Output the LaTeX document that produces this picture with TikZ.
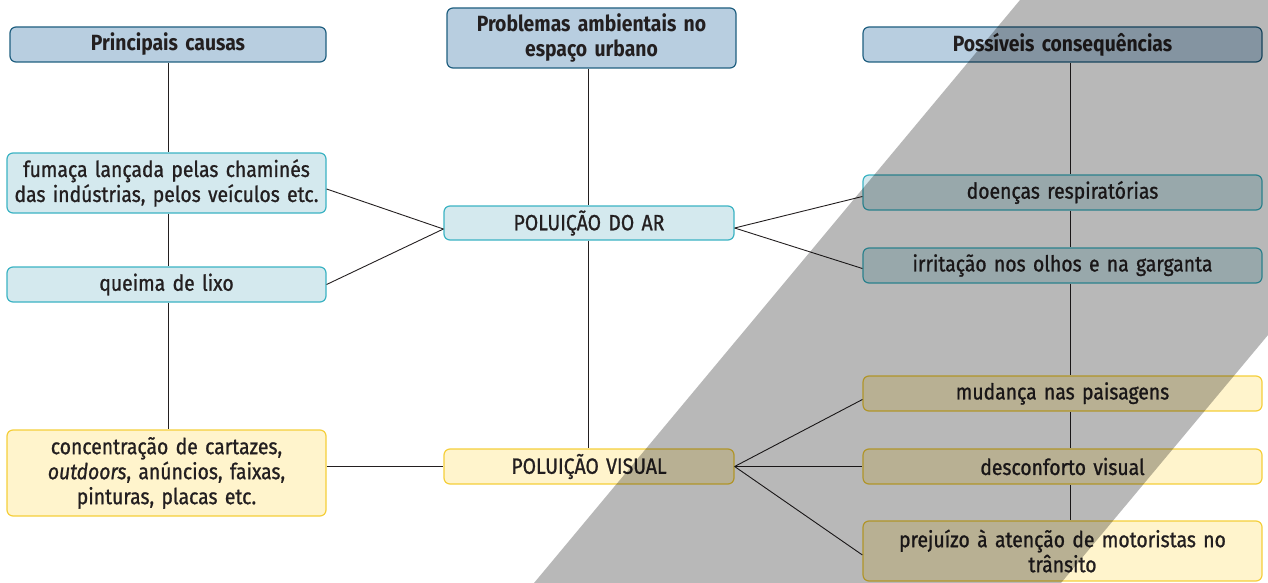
\documentclass[tikz,border=0pt]{standalone}
\usepackage{fontspec}
\setmainfont{Fira Sans}[FakeStretch=0.88, WordSpace=0.7, UprightFeatures={FakeBold=1}, ItalicFeatures={FakeBold=1}]
\usetikzlibrary{calc}
\definecolor{hdrfill}{HTML}{B8CEE0}
\definecolor{hdrline}{HTML}{1F5F80}
\definecolor{cyfill}{HTML}{D4E9EE}
\definecolor{cyline}{HTML}{3BB3C3}
\definecolor{yefill}{HTML}{FFF4CC}
\definecolor{yeline}{HTML}{F5CF3A}
\definecolor{txt}{HTML}{231F20}
\tikzset{
  box/.style={draw, rounded corners=6pt, line width=1.2pt, inner sep=2pt,
    align=center, font=\fontsize{22}{25}\selectfont, text=txt},
  hdr/.style={box, fill=hdrfill, draw=hdrline, font=\fontsize{22}{25}\selectfont\bfseries},
  cy/.style={box, fill=cyfill, draw=cyline},
  ye/.style={box, fill=yefill, draw=yeline},
  wL/.style={minimum width=319pt, text width=310pt},
  wC/.style={minimum width=290pt, text width=280pt},
  wR/.style={minimum width=399pt, text width=390pt},
  conn/.style={draw=txt, line width=0.9pt}
}
\begin{document}
\begin{tikzpicture}[x=1pt,y=-1pt]
\useasboundingbox (0,0) rectangle (1268,583);
% headers
\node[hdr, minimum width=316pt, text width=306pt, minimum height=35pt] (causes) at (168,44.5) {Principais causas};
\node[hdr, minimum width=289pt, text width=280pt, minimum height=60pt] (problems) at (591.5,38) {Problemas ambientais no\\espaço urbano};
\node[hdr, wR, minimum height=35pt] (conseq) at (1062.5,44.5) {Possíveis consequências};
% left column
\node[cy, wL, minimum height=60pt] (fumaca) at (166.5,183) {fumaça lançada pelas chaminés\\das indústrias, pelos veículos etc.};
\node[cy, wL, minimum height=35pt] (queima) at (166.5,284.5) {queima de lixo};
\node[ye, wL, minimum height=86pt] (concent) at (166.5,473) {concentração de cartazes,\\\textit{outdoors}, anúncios, faixas,\\pinturas, placas etc.};
% centre
\node[cy, wC, minimum height=34pt] (ar) at (589,223) {POLUIÇÃO DO AR};
\node[ye, wC, minimum height=35pt] (visual) at (589,466.5) {POLUIÇÃO VISUAL};
% right column
\node[cy, wR, minimum height=35pt] (doencas) at (1062.5,192.5) {doenças respiratórias};
\node[cy, wR, minimum height=35pt] (irrit) at (1062.5,265.5) {irritação nos olhos e na garganta};
\node[ye, wR, minimum height=35pt] (mudanca) at (1062.5,393.5) {mudança nas paisagens};
\node[ye, wR, minimum height=35pt] (descon) at (1062.5,466.5) {desconforto visual};
\node[ye, wR, minimum height=60pt] (prejuizo) at (1062.5,551) {prejuízo à atenção de motoristas no\\trânsito};
% column axes
\coordinate (lx) at (168,0);
\coordinate (cx) at (588,0);
\coordinate (rx) at (1070,0);
% vertical connectors
\draw[conn] (lx |- causes.south) -- (lx |- fumaca.north);
\draw[conn] (lx |- fumaca.south) -- (lx |- queima.north);
\draw[conn] (lx |- queima.south) -- (lx |- concent.north);
\draw[conn] (cx |- problems.south) -- (cx |- ar.north);
\draw[conn] (cx |- ar.south) -- (cx |- visual.north);
\draw[conn] (rx |- conseq.south) -- (rx |- doencas.north);
\draw[conn] (rx |- doencas.south) -- (rx |- irrit.north);
\draw[conn] (rx |- irrit.south) -- (rx |- mudanca.north);
\draw[conn] (rx |- mudanca.south) -- (rx |- descon.north);
\draw[conn] (rx |- descon.south) -- (rx |- prejuizo.north);
% diagonal connectors
\draw[conn] ([yshift=-6pt]fumaca.east) -- ([yshift=-6pt]ar.west);
\draw[conn] (queima.east) -- ([yshift=-6pt]ar.west);
\draw[conn] ([yshift=-5pt]ar.east) -- ([yshift=-4pt]doencas.west);
\draw[conn] ([yshift=-5pt]ar.east) -- ([yshift=-3pt]irrit.west);
\draw[conn] (concent.east |- visual.west) -- (visual.west);
\draw[conn] (visual.east) -- ([yshift=-6pt]mudanca.west);
\draw[conn] (visual.east) -- (descon.west);
\draw[conn] (visual.east) -- ([yshift=-4pt]prejuizo.west);
% grey overlay band
\fill[black, opacity=0.28] (1020,0) -- (1268,0) -- (1268,335) -- (1061,583) -- (534,583) -- cycle;
\end{tikzpicture}
\end{document}
